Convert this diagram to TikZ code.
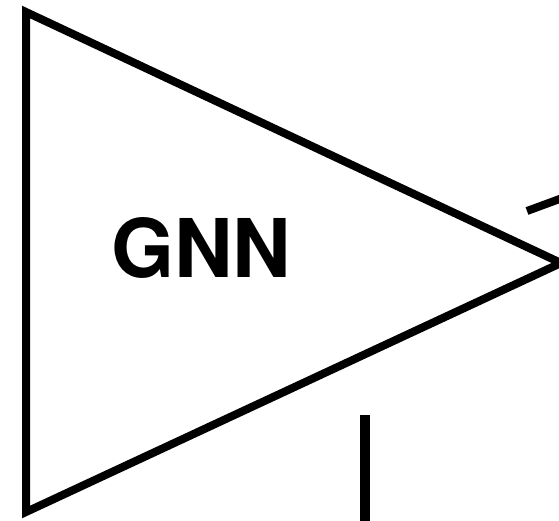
\documentclass[tikz,border=0pt]{standalone}
\usepackage{fontspec}
\setmainfont{TeX Gyre Heros}
\usetikzlibrary{positioning}
\tikzset{
  block/.style={draw=black,line width=8pt,line join=miter,fill=white},
  label/.style={font=\fontsize{81}{81}\selectfont\bfseries,inner sep=0pt},
  wire/.style={draw=black,line width=8pt},
  bus/.style={draw=black,line width=10.5pt},
}
\begin{document}
\begin{tikzpicture}[x=1pt,y=-1pt]
  \useasboundingbox (0,0) rectangle (559,520);
  \coordinate (tl) at (26,12);
  \coordinate (bl) at (26,512);
  \coordinate (tip) at (561,263);
  \draw[block] (tl) -- (tip) -- (bl) -- cycle;
  \node[label] (gnn) at (201,248) {GNN};
  \coordinate (o1) at (527,211); \coordinate (o2) at (565,197);
  \draw[wire] (o1) -- (o2);
  \coordinate (v1) at (365,415); \coordinate (v2) at (365,530);
  \draw[bus] (v1) -- (v2);
\end{tikzpicture}
\end{document}
